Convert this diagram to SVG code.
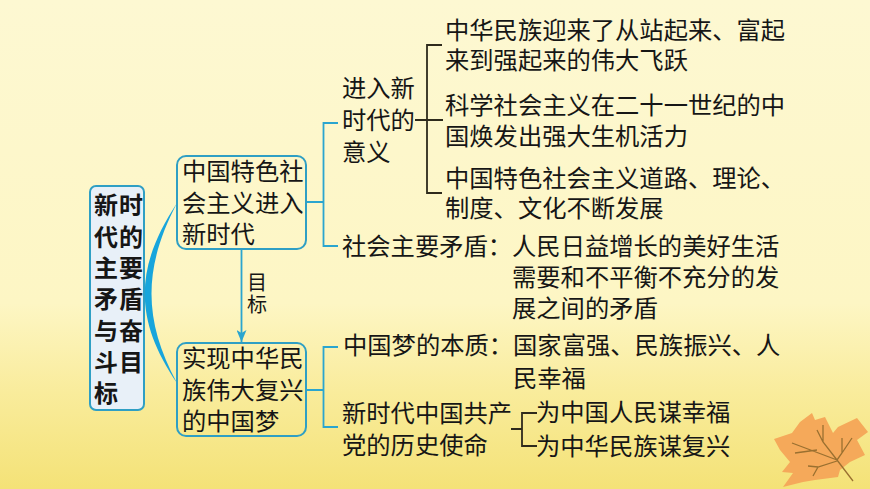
<svg xmlns="http://www.w3.org/2000/svg" width="870" height="489" viewBox="0 0 870 489">
<defs>
<linearGradient id="bg" x1="0" y1="0" x2="0" y2="1">
<stop offset="0" stop-color="#fdf8d2"/><stop offset="0.62" stop-color="#fdf6c4"/><stop offset="0.8" stop-color="#f9ec9c"/><stop offset="1" stop-color="#f4e277"/>
</linearGradient>
<marker id="arr" markerWidth="12" markerHeight="10" refX="12" refY="5" orient="auto" markerUnits="userSpaceOnUse" viewBox="0 0 12 10"><path d="M0 0L12 5L0 10L3 5Z" fill="#2aa5cf"/></marker>
</defs>
<style>
text{font-family:"Noto Sans CJK SC","Noto Sans CJK TC",sans-serif;font-size:24.3px;fill:#161616}
.b{font-weight:700;font-size:24px;letter-spacing:1px}
.s{font-size:20px}
.box{fill:none;stroke:#2f9fc4;stroke-width:2}
.blue{fill:none;stroke:#2aa5cf;stroke-width:1.8}
.dark{fill:none;stroke:#2e2a1c;stroke-width:1.8}
</style>
<rect width="870" height="489" fill="url(#bg)"/>
<g id="leaf">
<path d="M774 439L792 433L800 422L812 413L815 420L825 417L833 433L838 427L857 418L868 432L857 440L865 455L850 462L840 470L838 477L815 480L803 482L783 487L793 473L782 472L790 462L780 450Z" fill="#f5a95a"/>
<path d="M853 481L837 460L823 442L817 430M823 442V425M837 460L792 443M795 453L817 450M837 460L842 453L852 438M842 453V438M837 461L818 467L808 466M818 467L813 476" fill="none" stroke="#9a7030" stroke-width="1.3"/>
</g>
<g id="connectors">
<path d="M177 203C134 268 134 320 177 383C143 320 143 268 177 203Z" fill="#17a5dc"/>
<path class="blue" d="M306 202H323.500V123H338M323.500 202V246H338"/>
<path class="blue" d="M306 390H323.500V347H338M323.500 390V427H338"/>
<path class="blue" d="M241.500 249V342" marker-end="url(#arr)"/>
<path class="dark" d="M415 120H443M442 45H427V193H442"/>
<path class="dark" d="M511 429H522M537 413H522V446H537"/>
</g>
<g id="root">
<rect x="90" y="186" width="54" height="224" rx="6" fill="#e8f0f8" stroke="#2f9fc4" stroke-width="2"/>
<text class="b"><tspan x="94" y="214">新时</tspan><tspan x="94" y="246">代的</tspan><tspan x="94" y="277">主要</tspan><tspan x="94" y="308">矛盾</tspan><tspan x="94" y="340">与奋</tspan><tspan x="94" y="371">斗目</tspan><tspan x="94" y="402">标</tspan></text>
</g>
<g id="n1">
<rect class="box" x="177" y="156" width="129" height="93" rx="9"/>
<text><tspan x="182" y="180">中国特色社</tspan><tspan x="182" y="212">会主义进入</tspan><tspan x="182" y="243">新时代</tspan></text>
</g>
<g id="n2">
<rect class="box" x="177" y="343" width="129" height="93" rx="9"/>
<text><tspan x="182" y="367">实现中华民</tspan><tspan x="182" y="399">族伟大复兴</tspan><tspan x="182" y="430">的中国梦</tspan></text>
</g>
<g id="edge-label"><text class="s"><tspan x="247" y="290">目</tspan><tspan x="247" y="312">标</tspan></text></g>
<g id="n3"><text><tspan x="342" y="97">进入新</tspan><tspan x="342" y="129">时代的</tspan><tspan x="342" y="161">意义</tspan></text></g>
<g id="n4"><text><tspan x="445" y="39">中华民族迎来了从站起来、富起</tspan><tspan x="445" y="69">来到强起来的伟大飞跃</tspan></text></g>
<g id="n5"><text><tspan x="445" y="114">科学社会主义在二十一世纪的中</tspan><tspan x="445" y="145">国焕发出强大生机活力</tspan></text></g>
<g id="n6"><text><tspan x="445" y="187">中国特色社会主义道路、理论、</tspan><tspan x="445" y="217">制度、文化不断发展</tspan></text></g>
<g id="n7"><text><tspan x="342" y="255">社会主要矛盾：人民日益增长的美好生活</tspan><tspan x="512" y="286">需要和不平衡不充分的发</tspan><tspan x="512" y="317">展之间的矛盾</tspan></text></g>
<g id="n8"><text><tspan x="343" y="354">中国梦的本质：国家富强、民族振兴、人</tspan><tspan x="513" y="387">民幸福</tspan></text></g>
<g id="n9"><text><tspan x="342" y="422">新时代中国共产</tspan><tspan x="342" y="454">党的历史使命</tspan></text></g>
<g id="n10"><text><tspan x="536" y="421">为中国人民谋幸福</tspan><tspan x="536" y="455">为中华民族谋复兴</tspan></text></g>
</svg>
